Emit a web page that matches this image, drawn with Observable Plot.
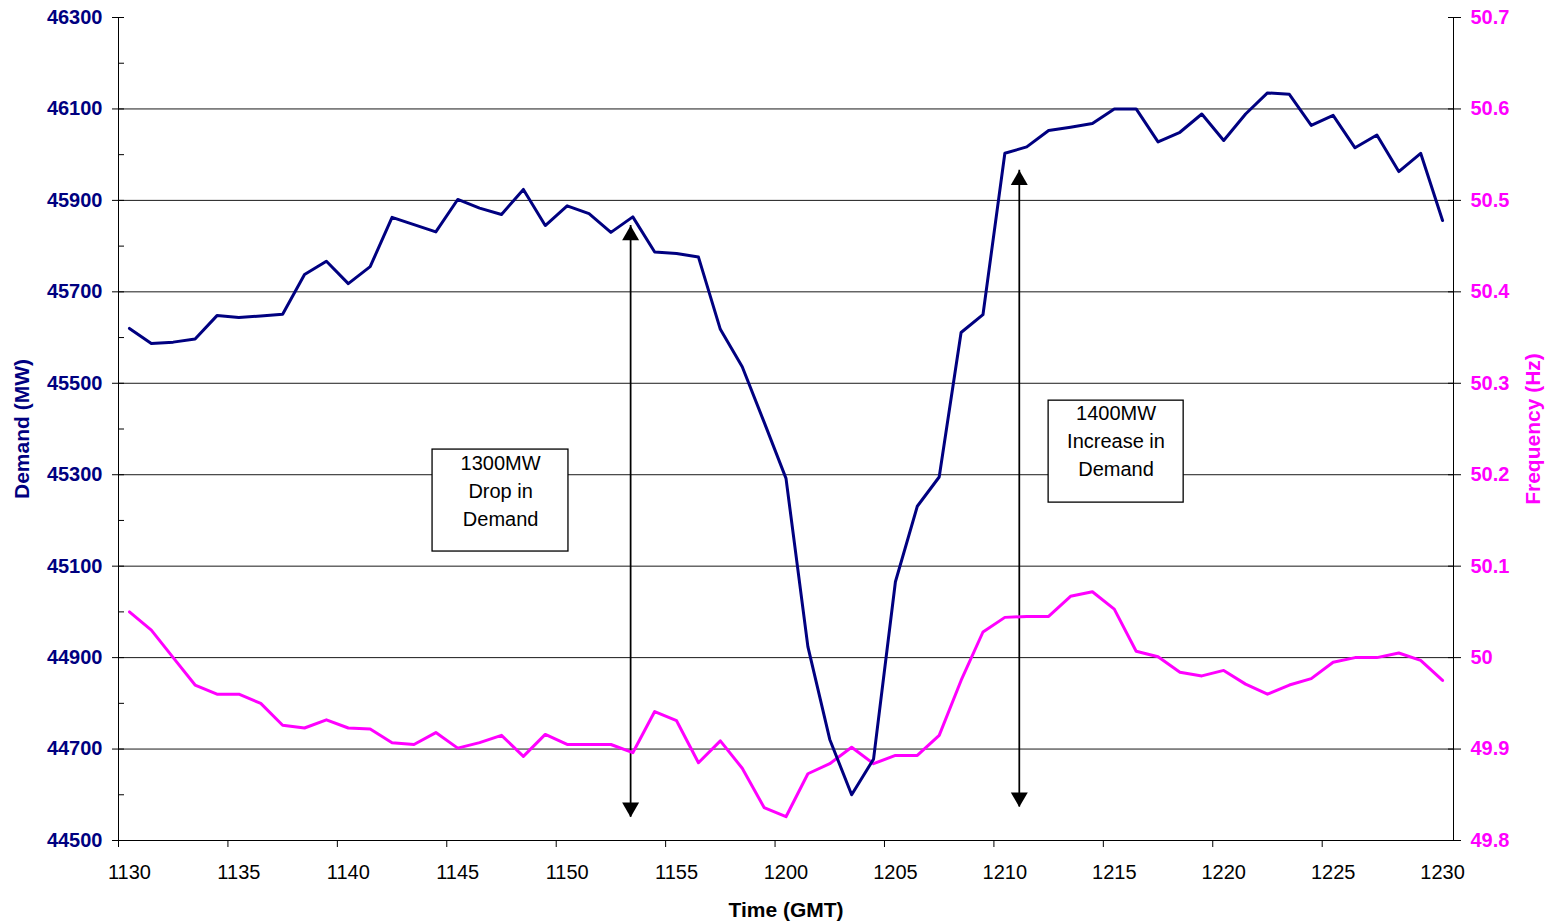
<!DOCTYPE html>
<html>
<head>
<meta charset="utf-8">
<script src="https://cdn.jsdelivr.net/npm/d3@7"></script>
<script src="https://cdn.jsdelivr.net/npm/@observablehq/plot@0.6"></script>
<style>
  html, body { margin: 0; padding: 0; background: #fff; }
  #chart { width: 1558px; height: 923px; }
</style>
</head>
<body>
<div id="chart"></div>
<script>
// ---- Data ----
const times = [
  "1130","1131","1132","1133","1134","1135","1136","1137","1138","1139",
  "1140","1141","1142","1143","1144","1145","1146","1147","1148","1149",
  "1150","1151","1152","1153","1154","1155","1156","1157","1158","1159",
  "1200","1201","1202","1203","1204","1205","1206","1207","1208","1209",
  "1210","1211","1212","1213","1214","1215","1216","1217","1218","1219",
  "1220","1221","1222","1223","1224","1225","1226","1227","1228","1229",
  "1230"
];

const demand = [
  45620, 45587, 45590, 45597, 45648, 45644, 45647, 45651, 45738, 45767,
  45718, 45755, 45863, 45847, 45831, 45902, 45883, 45869, 45924, 45845,
  45888, 45871, 45830, 45864, 45787, 45784, 45776, 45618, 45536, 45415,
  45292, 44924, 44721, 44600, 44678, 45066, 45231, 45295, 45611, 45650,
  46003, 46017, 46053, 46060, 46068, 46100, 46100, 46028, 46049, 46089,
  46031, 46089, 46135, 46132, 46064, 46086, 46015, 46043, 45963, 46003,
  45856
];

const frequency = [
  50.050, 50.030, 50.000, 49.970, 49.960, 49.960, 49.950, 49.926, 49.923, 49.932,
  49.923, 49.922, 49.907, 49.905, 49.918, 49.901, 49.907, 49.915, 49.892, 49.916,
  49.905, 49.905, 49.905, 49.896, 49.941, 49.931, 49.885, 49.909, 49.879, 49.836,
  49.826, 49.873, 49.884, 49.902, 49.884, 49.893, 49.893, 49.915, 49.975, 50.028,
  50.044, 50.045, 50.045, 50.067, 50.072, 50.053, 50.007, 50.001, 49.984, 49.980,
  49.986, 49.971, 49.960, 49.970, 49.977, 49.995, 50.000, 50.000, 50.005, 49.997,
  49.975
];

const xTickLabels = ["1130","1135","1140","1145","1150","1155","1200","1205","1210","1215","1220","1225","1230"];
const demandTicks = [44500, 44700, 44900, 45100, 45300, 45500, 45700, 45900, 46100, 46300];
const demandMinorTicks = [44500, 44600, 44700, 44800, 44900, 45000, 45100, 45200, 45300, 45400, 45500, 45600, 45700, 45800, 45900, 46000, 46100, 46200, 46300];
const freqTickLabels = ["49.8","49.9","50","50.1","50.2","50.3","50.4","50.5","50.6","50.7"];
const freqMin = 49.8, freqMax = 50.7;

// Annotations (double arrows and text boxes), in chart units
const arrowPos = [22.9, 40.66];          // category position (minute index)
const arrowTop = [45845, 45966];         // MW
const arrowBottom = [44551, 44573];      // MW
const boxLabels = ["1300MW\nDrop in\nDemand", "1400MW\nIncrease in\nDemand"];
const boxX1 = [13.85, 42.0], boxX2 = [20.06, 48.17];
const boxY1 = [45132, 45239], boxY2 = [45355, 45462];
const boxTextX = [16.96, 45.08], boxTextY = [45269, 45378];

// ---- Build tables ----
const yMin = demandTicks[0], yMax = demandTicks[demandTicks.length - 1];
const freqToY = f => yMin + (f - freqMin) / (freqMax - freqMin) * (yMax - yMin);

const rows = times.map((t, i) => ({i, t, demand: demand[i], freqY: freqToY(frequency[i])}));
const xTickPos = xTickLabels.map((_, k) => k * 5);
const xLabelOf = new Map(xTickPos.map((p, k) => [p, xTickLabels[k]]));
const xMarkPos = d3.range(0, 12).map(k => k * 5 - 0.5);
const freqLabelOf = new Map(demandTicks.map((d, k) => [d, freqTickLabels[k]]));
const arrows = arrowPos.map((x, k) => ({x, top: arrowTop[k], bottom: arrowBottom[k]}));
const boxes = boxLabels.map((label, k) => ({label, x1: boxX1[k], x2: boxX2[k], y1: boxY1[k], y2: boxY2[k], tx: boxTextX[k], ty: boxTextY[k]}));

const navy = "#000080", magenta = "#FF00FF";

const chart = Plot.plot({
  width: 1558,
  height: 923,
  marginLeft: 118,
  marginRight: 105,
  marginTop: 17,
  marginBottom: 83,
  style: {fontFamily: "'Liberation Sans', Arial, sans-serif", fontSize: "20px", background: "#fff", overflow: "visible"},
  x: {domain: [-0.5, times.length - 0.5], axis: null},
  y: {domain: [yMin, yMax], axis: null},
  marks: [
    // gridlines (no gridline at top)
    Plot.ruleY(demandTicks.slice(1, -1), {stroke: "#1a1a1a", strokeWidth: 1}),
    // axis lines
    Plot.ruleX([-0.5], {stroke: "#000", strokeWidth: 1}),
    Plot.ruleX([times.length - 0.5], {stroke: "#000", strokeWidth: 1}),
    Plot.ruleY([yMin], {stroke: "#000", strokeWidth: 1}),
    // left axis: labels + outward major ticks
    Plot.axisY(demandTicks, {anchor: "left", tickSize: 6, tickPadding: 10, tickFormat: d => String(d),
      fill: navy, fontWeight: "bold", fontSize: 20, stroke: "#000"}),
    // left axis inward minor ticks
    Plot.axisY(demandMinorTicks, {anchor: "left", tickSize: -6, tickFormat: () => "", stroke: "#000"}),
    // right axis: labels + outward ticks
    Plot.axisY(demandTicks, {anchor: "right", tickSize: 7, tickPadding: 10, tickFormat: d => freqLabelOf.get(d),
      fill: magenta, fontWeight: "bold", fontSize: 20, stroke: "#000"}),
    Plot.axisY(demandTicks, {anchor: "right", tickSize: -6, tickFormat: () => "", stroke: "#000"}),
    // x axis: tick marks between categories and labels on categories
    Plot.axisX(xMarkPos, {anchor: "bottom", tickSize: 7, tickFormat: () => "", stroke: "#000"}),
    Plot.axisX(xTickPos, {anchor: "bottom", tickSize: 0, tickPadding: 24, tickFormat: d => xLabelOf.get(d),
      fill: "#000", fontSize: 20}),
    // axis titles
    Plot.text(["Demand (MW)"], {frameAnchor: "left", textAnchor: "middle", lineAnchor: "middle", dx: -96, rotate: -90,
      fill: navy, fontWeight: "bold", fontSize: 21}),
    Plot.text(["Frequency (Hz)"], {frameAnchor: "right", textAnchor: "middle", lineAnchor: "middle", dx: 80, rotate: -90,
      fill: magenta, fontWeight: "bold", fontSize: 21}),
    Plot.text(["Time (GMT)"], {frameAnchor: "bottom", textAnchor: "middle", lineAnchor: "middle", dy: 70,
      fill: "#000", fontWeight: "bold", fontSize: 21}),
    // annotation boxes
    Plot.rect(boxes, {x1: "x1", x2: "x2", y1: "y1", y2: "y2", fill: "#fff", stroke: "#000", strokeWidth: 1.3}),
    Plot.text(boxes, {x: "tx", y: "ty", text: "label", fontSize: 20, lineHeight: 1.4, fill: "#000"}),
    // double arrows
    Plot.ruleX(arrows, {x: "x", y1: "bottom", y2: "top", stroke: "#000", strokeWidth: 1.75}),
    Plot.dot(arrows, {x: "x", y: "top", symbol: "triangle", r: 6.3, fill: "#000", stroke: null, dy: 9.8}),
    Plot.dot(arrows, {x: "x", y: "bottom", symbol: "triangle", r: 6.3, fill: "#000", stroke: null, rotate: 180, dy: -9.8}),
    // series
    Plot.line(rows, {x: "i", y: "freqY", stroke: magenta, strokeWidth: 3, curve: "linear"}),
    Plot.line(rows, {x: "i", y: "demand", stroke: navy, strokeWidth: 3, curve: "linear"})
  ]
});

document.getElementById("chart").appendChild(chart);
</script>
</body>
</html>
